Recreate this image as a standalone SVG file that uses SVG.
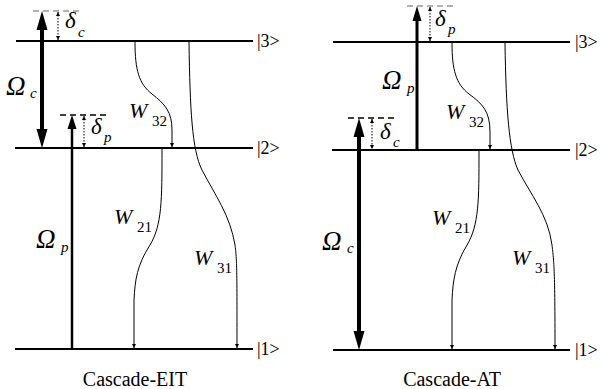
<svg xmlns="http://www.w3.org/2000/svg" width="603" height="389" viewBox="0 0 603 389">
<style>
.lvl{stroke:#000;stroke-width:2;fill:none}
.lbl{font-family:"Liberation Serif",serif;font-size:18px;fill:#000}
.cap{font-family:"Liberation Serif",serif;font-size:20px;fill:#000;text-anchor:middle}
.it{font-family:"Liberation Serif",serif;font-style:italic;fill:#000}
.up{font-family:"Liberation Serif",serif;fill:#000}
.big{font-size:27px}
.del{font-size:23px}
.w{font-size:22px}
.sub{font-size:15px}
.dec{stroke:#000;stroke-width:1;fill:none}
.dot{stroke:#000;stroke-width:1;stroke-dasharray:1.5,1.5;fill:none}
.dashg{stroke:#999;stroke-width:1.3;stroke-dasharray:6,4;fill:none}
.dashk{stroke:#000;stroke-width:1.3;stroke-dasharray:6,4;fill:none}
</style>
<defs>
<marker id="sm" viewBox="0 0 6 6" refX="6" refY="3" markerWidth="5" markerHeight="4" markerUnits="userSpaceOnUse" orient="auto">
<path d="M0,0 L6,3 L0,6 Z" fill="#000"/>
</marker>
<marker id="ds" viewBox="0 0 6 6" refX="6" refY="3" markerWidth="4" markerHeight="4" markerUnits="userSpaceOnUse" orient="auto-start-reverse">
<path d="M0,0 L6,3 L0,6 Z" fill="#000"/>
</marker>
</defs>

<g id="levels-left">
<line class="lvl" x1="16" y1="41" x2="253" y2="41"/>
<line class="lvl" x1="15" y1="148" x2="253" y2="148"/>
<line class="lvl" x1="15" y1="349" x2="253" y2="349"/>
<text class="lbl" x="257" y="47">|3&gt;</text>
<text class="lbl" x="257" y="154">|2&gt;</text>
<text class="lbl" x="257" y="355">|1&gt;</text>
</g>

<g id="levels-right">
<line class="lvl" x1="333" y1="42" x2="570" y2="42"/>
<line class="lvl" x1="332" y1="150" x2="570" y2="150"/>
<line class="lvl" x1="333" y1="350" x2="570" y2="350"/>
<text class="lbl" x="575" y="48">|3&gt;</text>
<text class="lbl" x="575" y="156">|2&gt;</text>
<text class="lbl" x="575" y="356">|1&gt;</text>
</g>

<g id="fields-left">
<line x1="42" y1="28" x2="42" y2="131" stroke="#000" stroke-width="4"/>
<polygon points="42,11 36.5,30 47.5,30" fill="#000"/>
<polygon points="42,148 36.5,129 47.5,129" fill="#000"/>
<line class="dashg" x1="33" y1="11" x2="82" y2="11"/>
<line class="dot" x1="58" y1="12" x2="58" y2="40" marker-start="url(#ds)" marker-end="url(#ds)"/>
<text class="it del" x="65" y="28">δ</text><text class="it sub" x="78" y="37">c</text>
<text class="it big" x="6" y="95">Ω</text><text class="it sub" x="30" y="98">c</text>

<line x1="72" y1="349" x2="72" y2="126" stroke="#000" stroke-width="2.5"/>
<polygon points="72,115 67.5,129 76.5,129" fill="#000"/>
<line class="dashk" x1="60" y1="115" x2="107" y2="115"/>
<line class="dot" x1="84" y1="116" x2="84" y2="147" marker-start="url(#ds)" marker-end="url(#ds)"/>
<text class="it del" x="91" y="134">δ</text><text class="it sub" x="104" y="142">p</text>
<text class="it big" x="36" y="248">Ω</text><text class="it sub" x="61" y="252">p</text>
</g>

<g id="fields-right">
<line x1="417" y1="150" x2="417" y2="18" stroke="#000" stroke-width="3"/>
<polygon points="417,6 412.5,21 421.5,21" fill="#000"/>
<line class="dashg" x1="407" y1="6" x2="454" y2="6"/>
<line class="dot" x1="430" y1="7" x2="430" y2="41" marker-start="url(#ds)" marker-end="url(#ds)"/>
<text class="it del" x="435" y="26">δ</text><text class="it sub" x="448" y="34">p</text>
<text class="it big" x="382" y="89">Ω</text><text class="it sub" x="407" y="93">p</text>

<line x1="359" y1="135" x2="359" y2="333" stroke="#000" stroke-width="4"/>
<polygon points="359,118 353.5,137 364.5,137" fill="#000"/>
<polygon points="359,350 353.5,331 364.5,331" fill="#000"/>
<line class="dashk" x1="348" y1="118" x2="397" y2="118"/>
<line class="dot" x1="372" y1="119" x2="372" y2="149" marker-start="url(#ds)" marker-end="url(#ds)"/>
<text class="it del" x="380" y="139">δ</text><text class="it sub" x="393" y="147">c</text>
<text class="it big" x="322" y="250">Ω</text><text class="it sub" x="347" y="253">c</text>
</g>

<g id="decay-left">
<path class="dec" d="M135,42 C135,70 139,84 152,94 C165,104 172,112 172,130 L172,147" marker-end="url(#sm)"/>
<path class="dec" d="M189,42 C190,110 192,150 202,170 C215,195 230,215 235,245 C237,260 237,270 237,348" marker-end="url(#sm)"/>
<path class="dec" d="M162,149 C162,200 162,225 150,245 C137,265 135,280 134,300 L134,348" marker-end="url(#sm)"/>
<text class="it w" x="129" y="118">W</text><text class="up sub" x="152" y="126">32</text>
<text class="it w" x="114" y="224">W</text><text class="up sub" x="137" y="232">21</text>
<text class="it w" x="194" y="265">W</text><text class="up sub" x="217" y="273">31</text>
</g>

<g id="decay-right">
<path class="dec" d="M452,43 C452,70 456,84 469,94 C483,104 490,112 490,132 L490,149" marker-end="url(#sm)"/>
<path class="dec" d="M505,43 C506,110 509,150 518,170 C531,195 548,215 552,245 C554,262 555,270 555,349" marker-end="url(#sm)"/>
<path class="dec" d="M479,151 C479,200 479,225 467,245 C455,265 453,280 452,300 L452,349" marker-end="url(#sm)"/>
<text class="it w" x="446" y="119">W</text><text class="up sub" x="469" y="127">32</text>
<text class="it w" x="432" y="225">W</text><text class="up sub" x="455" y="233">21</text>
<text class="it w" x="512" y="265">W</text><text class="up sub" x="535" y="273">31</text>
</g>

<g id="captions">
<text class="cap" x="135" y="386">Cascade-EIT</text>
<text class="cap" x="452" y="386">Cascade-AT</text>
</g>
</svg>
